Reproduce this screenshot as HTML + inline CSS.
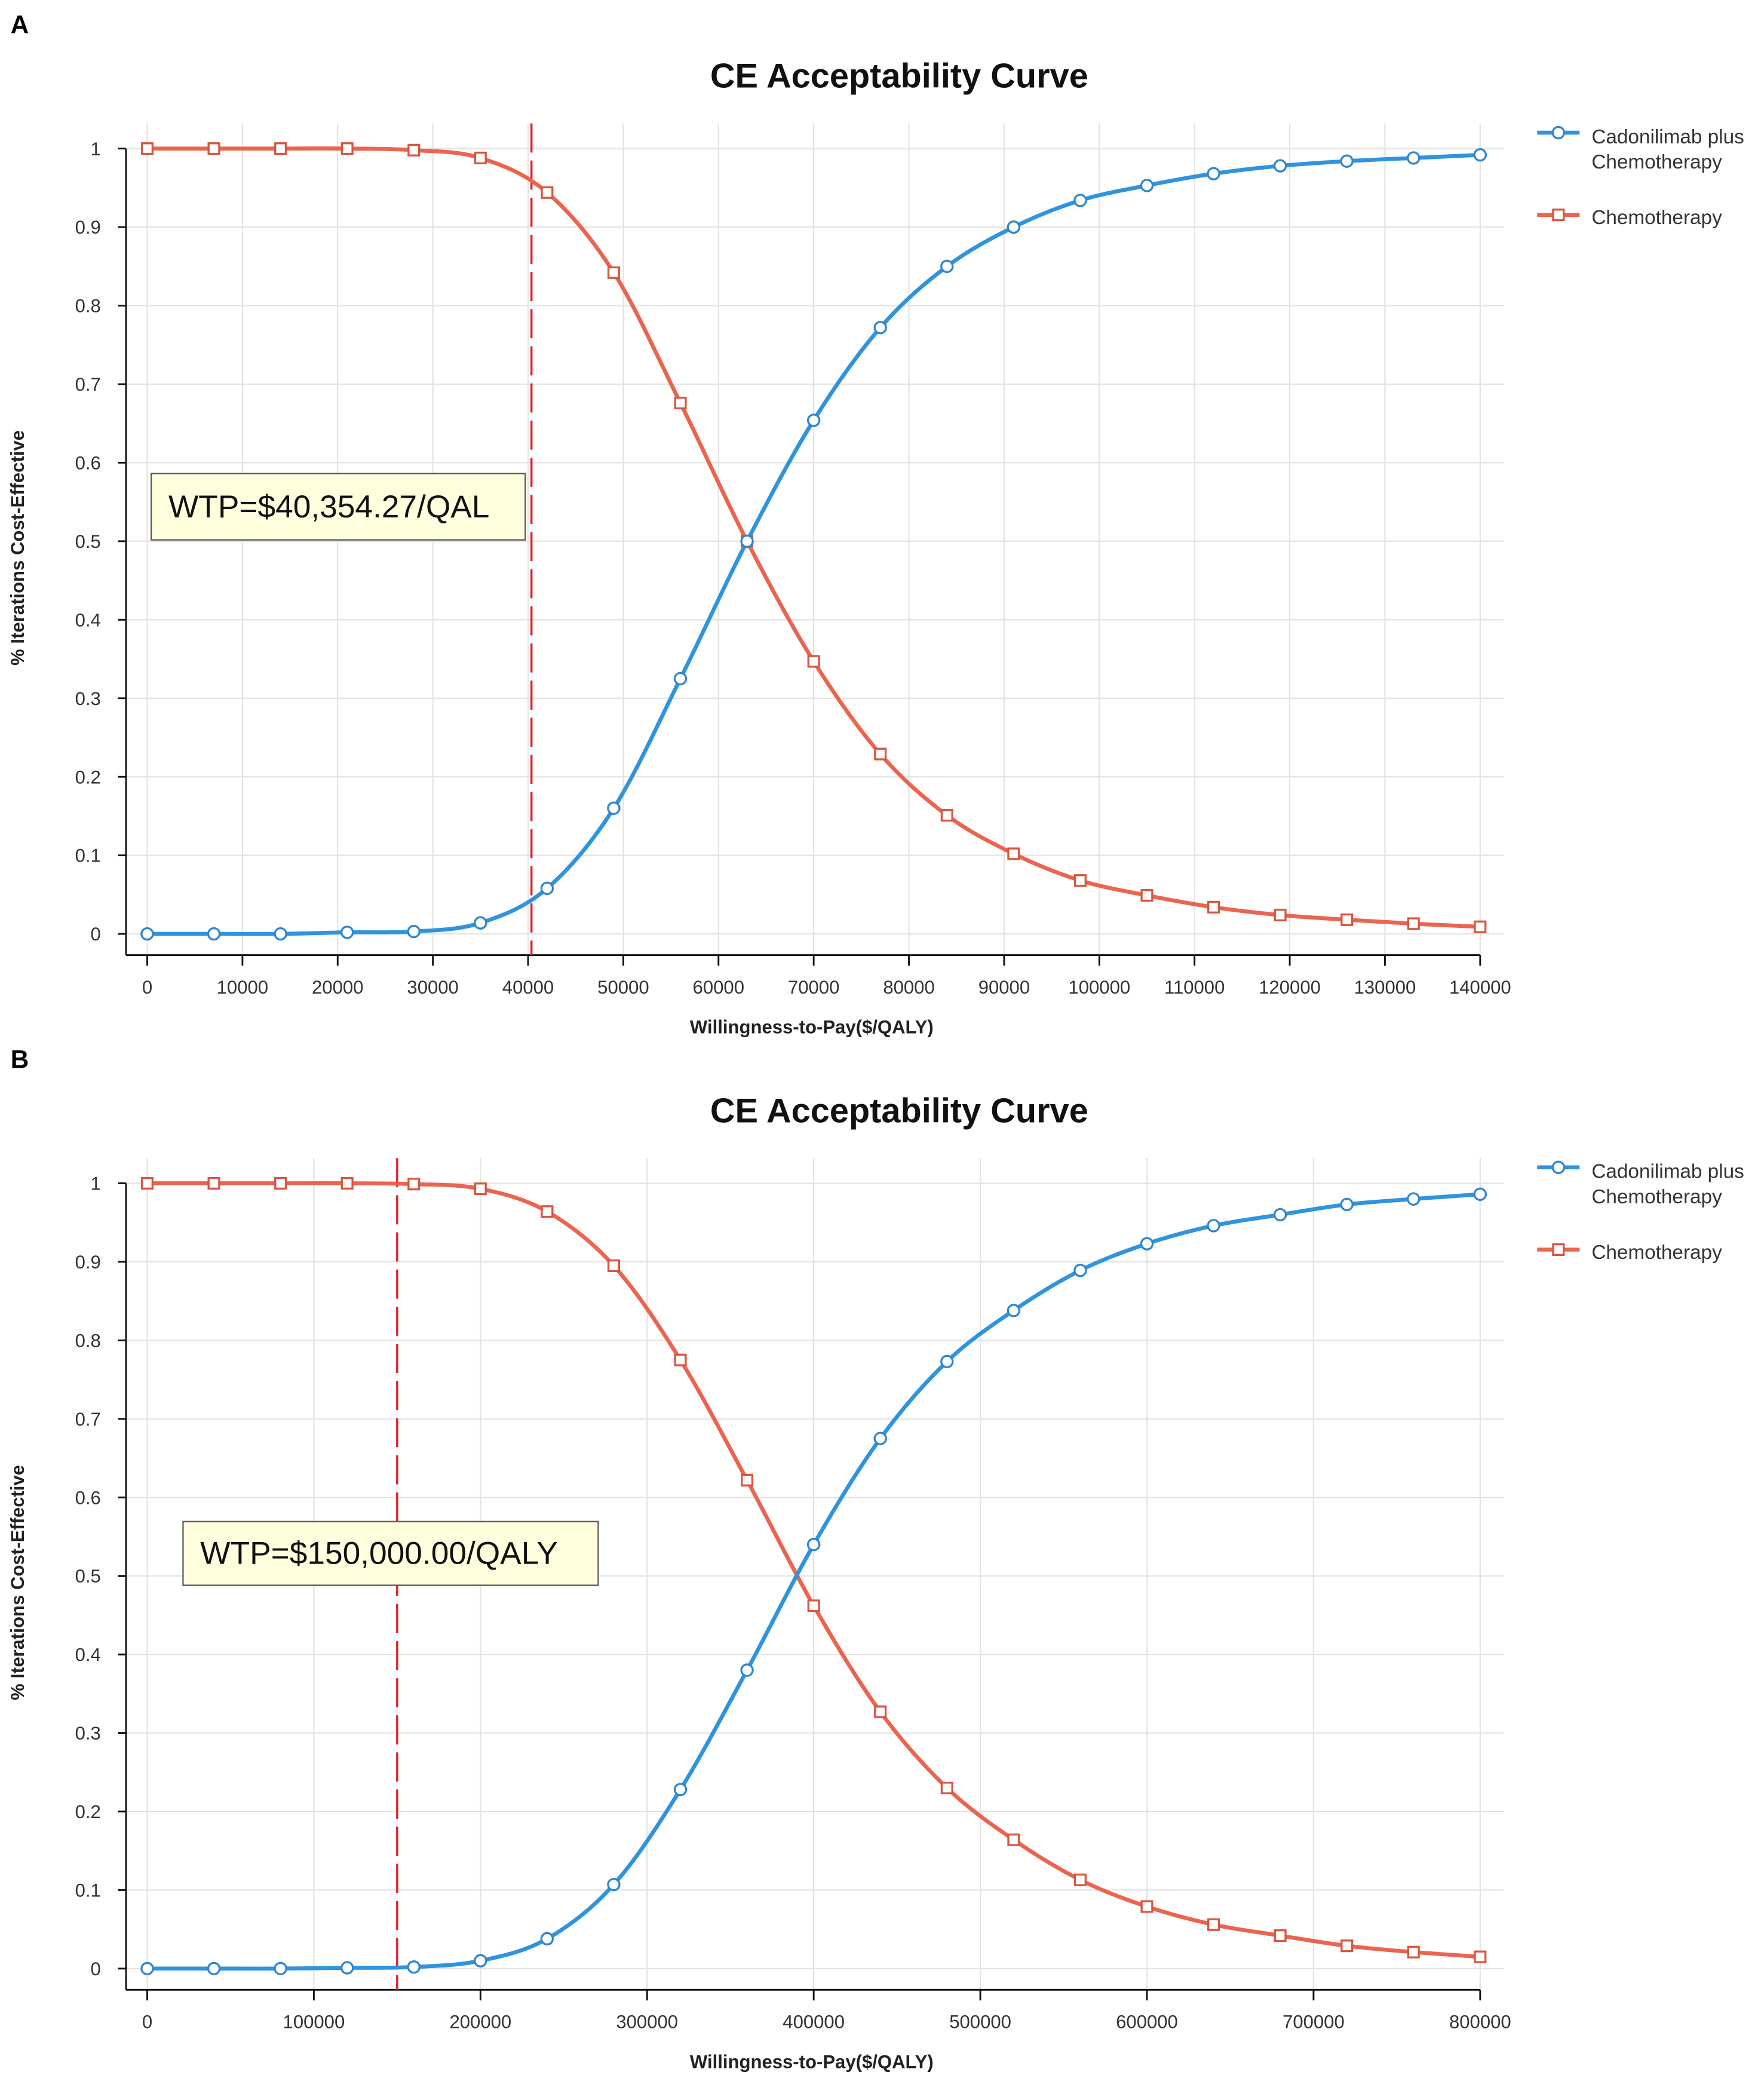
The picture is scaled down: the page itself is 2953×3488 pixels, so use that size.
<!DOCTYPE html>
<html><head><meta charset="utf-8"><style>
html,body{margin:0;padding:0;background:#fff;}
svg{display:block;}
text{font-family:"Liberation Sans",sans-serif;}
</style></head><body>
<svg id="chart" xmlns="http://www.w3.org/2000/svg" width="2953" height="3488" viewBox="0 0 1330 1571"></svg>
<script>
const xTicksA = [0,10000,20000,30000,40000,50000,60000,70000,80000,90000,100000,110000,120000,130000,140000];
const xValsA = [0,7000,14000,21000,28000,35000,42000,49000,56000,63000,70000,77000,84000,91000,98000,105000,112000,119000,126000,133000,140000];
const cadoA = [0,0,0,0.002,0.003,0.014,0.058,0.16,0.325,0.5,0.654,0.772,0.85,0.9,0.934,0.953,0.968,0.978,0.984,0.988,0.992];
const chemoA = [1,1,1,1,0.998,0.988,0.944,0.842,0.676,0.5,0.347,0.229,0.151,0.102,0.068,0.049,0.034,0.024,0.018,0.013,0.009];
const wtpA = 40354.27;
const wtpLabelA = "WTP=$40,354.27/QAL";

const xTicksB = [0,100000,200000,300000,400000,500000,600000,700000,800000];
const xValsB = [0,40000,80000,120000,160000,200000,240000,280000,320000,360000,400000,440000,480000,520000,560000,600000,640000,680000,720000,760000,800000];
const cadoB = [0,0,0,0.001,0.002,0.01,0.038,0.107,0.228,0.38,0.54,0.675,0.773,0.838,0.889,0.923,0.946,0.96,0.973,0.98,0.986];
const chemoB = [1,1,1,1,0.999,0.993,0.964,0.895,0.775,0.622,0.462,0.327,0.23,0.164,0.113,0.079,0.056,0.042,0.029,0.021,0.015];
const wtpB = 150000;
const wtpLabelB = "WTP=$150,000.00/QALY";

const yTicks = [0,0.1,0.2,0.3,0.4,0.5,0.6,0.7,0.8,0.9,1];
const seriesNames = ["Cadonilimab plus", "Chemotherapy"];

const NS = "http://www.w3.org/2000/svg";
const svg = document.getElementById('chart');
function mk(tag, attrs, parent, txt){
  const e = document.createElementNS(NS, tag);
  for (const k in attrs) e.setAttribute(k, attrs[k]);
  if (txt !== undefined) e.textContent = txt;
  parent.appendChild(e);
  return e;
}
function smoothPath(pts){
  let d = "M" + pts[0][0] + "," + pts[0][1];
  for (let i = 0; i < pts.length - 1; i++){
    const p0 = pts[Math.max(i-1,0)], p1 = pts[i], p2 = pts[i+1], p3 = pts[Math.min(i+2,pts.length-1)];
    const c1x = p1[0] + (p2[0]-p0[0])/6, c1y = p1[1] + (p2[1]-p0[1])/6;
    const c2x = p2[0] - (p3[0]-p1[0])/6, c2y = p2[1] - (p3[1]-p1[1])/6;
    d += " C" + c1x + "," + c1y + " " + c2x + "," + c2y + " " + p2[0] + "," + p2[1];
  }
  return d;
}

function panel(oy, letter, xTicks, xVals, cado, chemo, wtp, wtpLabel, box, prefix){
  const g = mk('g', {}, svg);
  
  
  const xmax = xTicks[xTicks.length-1];
  const X0 = 111, X1 = 1116, Y0 = 704 + oy, Y1 = 112 + oy;
  const xs = v => X0 + (v / xmax) * (X1 - X0);
  const ys = v => Y0 + v * (Y1 - Y0);

  const lt = mk('text', {x:8, y:25+oy, 'font-size':19, 'font-weight':'bold', fill:'#000'}, g, letter);
  
  
  const tt = mk('text', {x:678, y:66+oy, 'font-size':26, 'font-weight':'bold', 'text-anchor':'middle', fill:'#111'}, g, "CE Acceptability Curve");
  
  

  xTicks.forEach(t => {
    const l = mk('line', {x1:xs(t), x2:xs(t), y1:93+oy, y2:720+oy, stroke:'#e3e3e3', 'stroke-width':1}, g);
    
    
  });
  yTicks.forEach(t => {
    const l = mk('line', {x1:95, x2:1134, y1:ys(t), y2:ys(t), stroke:'#e3e3e3', 'stroke-width':1}, g);
    
    
  });
  const ya = mk('line', {x1:95, x2:95, y1:Y1, y2:720+oy, stroke:'#111', 'stroke-width':1.3}, g);
  
  
  const xa = mk('line', {x1:95, x2:X1, y1:720+oy, y2:720+oy, stroke:'#111', 'stroke-width':1.3}, g);
  
  
  yTicks.forEach(t => {
    mk('line', {x1:89, x2:95, y1:ys(t), y2:ys(t), stroke:'#111', 'stroke-width':1.3}, g);
    const lb = mk('text', {x:76, y:ys(t)+5, 'font-size':14, 'text-anchor':'end', fill:'#333'}, g, String(t));
    
    
  });
  xTicks.forEach(t => {
    mk('line', {x1:xs(t), x2:xs(t), y1:720+oy, y2:728+oy, stroke:'#111', 'stroke-width':1.3}, g);
    const lb = mk('text', {x:xs(t), y:749+oy, 'font-size':14, 'text-anchor':'middle', fill:'#333'}, g, String(t));
    
    
  });
  const xt = mk('text', {x:612, y:779+oy, 'font-size':14, 'font-weight':'bold', 'text-anchor':'middle', fill:'#222'}, g, "Willingness-to-Pay($/QALY)");
  
  
  const yt = mk('text', {x:0, y:0, 'font-size':14, 'font-weight':'bold', 'text-anchor':'middle', fill:'#222', transform:'translate(18,'+(413+oy)+') rotate(-90)'}, g, "% Iterations Cost-Effective");
  
  

  const wl = mk('line', {x1:xs(wtp), x2:xs(wtp), y1:93+oy, y2:720+oy, stroke:'#d9262c', 'stroke-width':1.6, 'stroke-dasharray':'22,6'}, g);
  
  

  const chemoPts = xVals.map((v,i) => [xs(v), ys(chemo[i])]);
  const cadoPts = xVals.map((v,i) => [xs(v), ys(cado[i])]);
  const cp = mk('path', {d:smoothPath(chemoPts), fill:'none', stroke:'#eb6450', 'stroke-width':3}, g);
  
  
  const bp = mk('path', {d:smoothPath(cadoPts), fill:'none', stroke:'#2f93de', 'stroke-width':3}, g);
  
  
  chemoPts.forEach(p => {
    const r = mk('rect', {x:p[0]-4, y:p[1]-4, width:8, height:8, fill:'#fff', stroke:'#d9553f', 'stroke-width':1.5}, g);
    
    
  });
  cadoPts.forEach(p => {
    const c = mk('circle', {cx:p[0], cy:p[1], r:4.3, fill:'#fff', stroke:'#2f86cf', 'stroke-width':1.5}, g);
    
    
  });

  const bx = mk('rect', {x:box[0], y:box[1]+oy, width:box[2], height:box[3], fill:'#ffffdd', stroke:'#555', 'stroke-width':1}, g);
  
  
  const bt = mk('text', {x:box[0]+13, y:box[1]+oy+box[3]/2+8, 'font-size':24, fill:'#111'}, g, wtpLabel);
  
  

  const l1 = mk('g', {}, g);
  
  
  mk('line', {x1:1159, x2:1191, y1:100+oy, y2:100+oy, stroke:'#2f93de', 'stroke-width':3}, l1);
  mk('circle', {cx:1175, cy:100+oy, r:4.3, fill:'#fff', stroke:'#2f86cf', 'stroke-width':1.5}, l1);
  mk('text', {x:1200, y:108+oy, 'font-size':15, fill:'#333'}, l1, seriesNames[0]);
  mk('text', {x:1200, y:127+oy, 'font-size':15, fill:'#333'}, l1, "Chemotherapy");
  const l2 = mk('g', {}, g);
  
  
  mk('line', {x1:1159, x2:1191, y1:162+oy, y2:162+oy, stroke:'#eb6450', 'stroke-width':3}, l2);
  mk('rect', {x:1171, y:158+oy, width:8, height:8, fill:'#fff', stroke:'#d9553f', 'stroke-width':1.5}, l2);
  mk('text', {x:1200, y:169+oy, 'font-size':15, fill:'#333'}, l2, seriesNames[1]);
}

panel(0, "A", xTicksA, xValsA, cadoA, chemoA, wtpA, wtpLabelA, [114,357,282,50], 'panel-a');
panel(780, "B", xTicksB, xValsB, cadoB, chemoB, wtpB, wtpLabelB, [138,367,313,48], 'panel-b');
</script>
</body></html>
